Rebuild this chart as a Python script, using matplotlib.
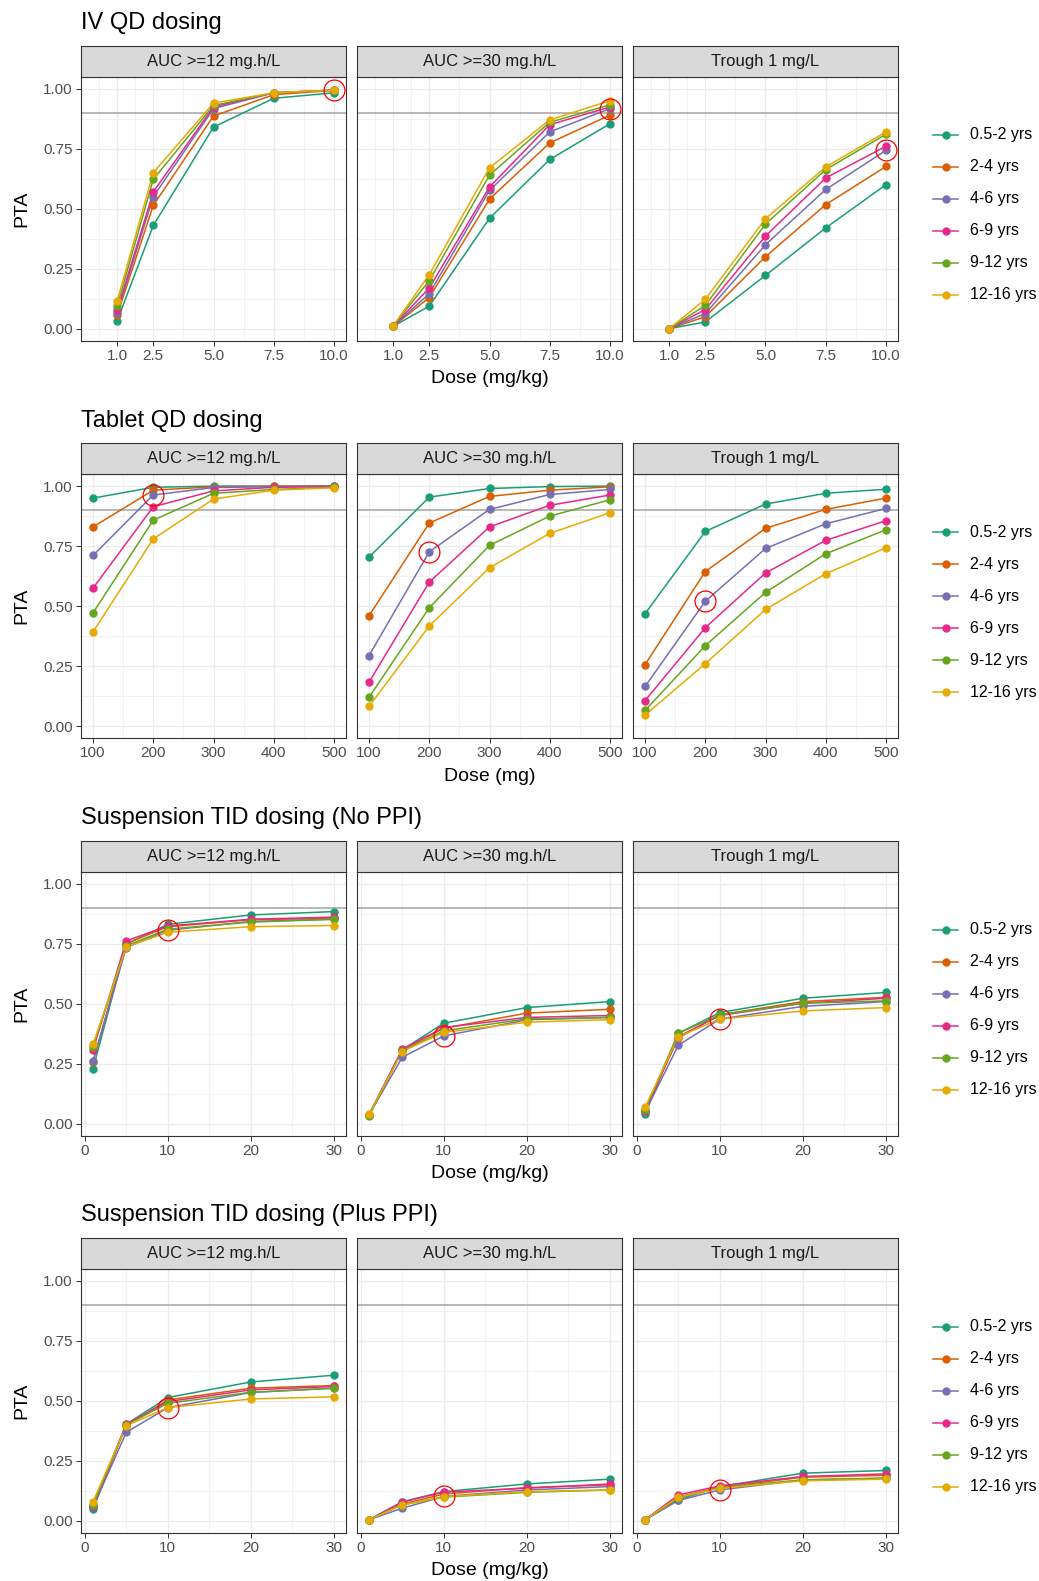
import matplotlib.pyplot as plt
from matplotlib.lines import Line2D

plt.rcParams['font.family'] = ['Liberation Sans', 'DejaVu Sans']

W, H = 1039, 1581

groups = ["0.5-2 yrs", "2-4 yrs", "4-6 yrs", "6-9 yrs", "9-12 yrs", "12-16 yrs"]
colors = ["#1B9E77", "#D95F02", "#7570B3", "#E7298A", "#66A61E", "#E6AB02"]
targets = ["AUC >=12 mg.h/L", "AUC >=30 mg.h/L", "Trough 1 mg/L"]
titles = ["IV QD dosing", "Tablet QD dosing",
          "Suspension TID dosing (No PPI)", "Suspension TID dosing (Plus PPI)"]
xlabels = ["Dose (mg/kg)", "Dose (mg)", "Dose (mg/kg)", "Dose (mg/kg)"]

iv_dose = [1, 2.5, 5, 7.5, 10]
tab_dose = [100, 200, 300, 400, 500]
sus_dose = [1, 5, 10, 20, 30]

# PTA per age group (rows follow `groups`)
iv_auc12 = [
    [0.032, 0.430, 0.840, 0.960, 0.983],
    [0.056, 0.514, 0.886, 0.975, 0.993],
    [0.067, 0.550, 0.917, 0.983, 0.994],
    [0.076, 0.570, 0.924, 0.983, 0.994],
    [0.094, 0.622, 0.930, 0.983, 0.994],
    [0.115, 0.650, 0.940, 0.983, 0.994],
]
iv_auc30 = [
    [0.010, 0.094, 0.460, 0.705, 0.854],
    [0.010, 0.130, 0.540, 0.774, 0.890],
    [0.010, 0.146, 0.576, 0.820, 0.917],
    [0.010, 0.170, 0.590, 0.850, 0.924],
    [0.012, 0.200, 0.640, 0.860, 0.933],
    [0.012, 0.225, 0.670, 0.870, 0.950],
]
iv_trough = [
    [0.000, 0.028, 0.222, 0.420, 0.600],
    [0.000, 0.050, 0.300, 0.517, 0.676],
    [0.000, 0.063, 0.350, 0.580, 0.743],
    [0.000, 0.080, 0.386, 0.628, 0.760],
    [0.000, 0.097, 0.436, 0.663, 0.810],
    [0.000, 0.122, 0.458, 0.674, 0.820],
]
tab_auc12 = [
    [0.950, 0.995, 1.000, 1.000, 1.000],
    [0.830, 0.983, 0.997, 0.999, 1.000],
    [0.711, 0.963, 0.994, 0.998, 0.999],
    [0.575, 0.914, 0.980, 0.995, 0.998],
    [0.472, 0.858, 0.970, 0.986, 0.995],
    [0.393, 0.780, 0.946, 0.983, 0.993],
]
tab_auc30 = [
    [0.704, 0.954, 0.990, 0.998, 1.000],
    [0.460, 0.846, 0.957, 0.983, 0.997],
    [0.294, 0.726, 0.903, 0.965, 0.986],
    [0.183, 0.600, 0.830, 0.920, 0.963],
    [0.120, 0.493, 0.753, 0.875, 0.943],
    [0.082, 0.417, 0.660, 0.803, 0.889],
]
tab_trough = [
    [0.468, 0.811, 0.925, 0.970, 0.987],
    [0.256, 0.644, 0.824, 0.903, 0.950],
    [0.165, 0.520, 0.740, 0.843, 0.907],
    [0.106, 0.410, 0.638, 0.774, 0.856],
    [0.065, 0.335, 0.557, 0.718, 0.818],
    [0.046, 0.260, 0.486, 0.635, 0.743],
]
sus_auc12 = [
    [0.228, 0.747, 0.830, 0.869, 0.883],
    [0.258, 0.750, 0.820, 0.849, 0.855],
    [0.260, 0.733, 0.805, 0.842, 0.851],
    [0.307, 0.761, 0.823, 0.851, 0.860],
    [0.320, 0.740, 0.810, 0.839, 0.851],
    [0.330, 0.736, 0.797, 0.820, 0.825],
]
sus_auc30 = [
    [0.035, 0.307, 0.418, 0.483, 0.508],
    [0.037, 0.306, 0.397, 0.460, 0.476],
    [0.036, 0.276, 0.365, 0.432, 0.442],
    [0.037, 0.310, 0.400, 0.442, 0.450],
    [0.033, 0.303, 0.386, 0.436, 0.442],
    [0.038, 0.300, 0.380, 0.422, 0.433],
]
sus_trough = [
    [0.039, 0.376, 0.462, 0.522, 0.546],
    [0.057, 0.356, 0.453, 0.508, 0.526],
    [0.047, 0.326, 0.435, 0.488, 0.508],
    [0.053, 0.362, 0.450, 0.501, 0.522],
    [0.057, 0.376, 0.453, 0.501, 0.511],
    [0.067, 0.362, 0.435, 0.469, 0.483],
]
ppi_auc12 = [
    [0.049, 0.403, 0.514, 0.579, 0.607],
    [0.063, 0.397, 0.504, 0.553, 0.564],
    [0.057, 0.369, 0.472, 0.535, 0.553],
    [0.063, 0.404, 0.497, 0.546, 0.560],
    [0.067, 0.400, 0.490, 0.536, 0.553],
    [0.080, 0.397, 0.472, 0.508, 0.517],
]
ppi_auc30 = [
    [0.005, 0.080, 0.122, 0.154, 0.174],
    [0.005, 0.070, 0.112, 0.139, 0.150],
    [0.005, 0.053, 0.102, 0.129, 0.143],
    [0.005, 0.078, 0.120, 0.136, 0.154],
    [0.005, 0.067, 0.099, 0.119, 0.129],
    [0.005, 0.067, 0.101, 0.122, 0.129],
]
ppi_trough = [
    [0.005, 0.088, 0.143, 0.199, 0.210],
    [0.005, 0.100, 0.140, 0.182, 0.190],
    [0.005, 0.085, 0.129, 0.171, 0.178],
    [0.005, 0.108, 0.146, 0.185, 0.196],
    [0.005, 0.094, 0.139, 0.171, 0.178],
    [0.005, 0.099, 0.136, 0.167, 0.174],
]

# recommended dose (circled) for the 4-6 yrs group
rec_dose = [10, 200, 10, 10]
rec_group = 2

rows = [
    (iv_dose, [iv_auc12, iv_auc30, iv_trough]),
    (tab_dose, [tab_auc12, tab_auc30, tab_trough]),
    (sus_dose, [sus_auc12, sus_auc30, sus_trough]),
    (sus_dose, [ppi_auc12, ppi_auc30, ppi_trough]),
]
xticks = [[1, 2.5, 5, 7.5, 10], [100, 200, 300, 400, 500], [0, 10, 20, 30], [0, 10, 20, 30]]
xticklabels = [["1.0", "2.5", "5.0", "7.5", "10.0"], ["100", "200", "300", "400", "500"],
               ["0", "10", "20", "30"], ["0", "10", "20", "30"]]
xminor = [[0.25, 1.75, 3.75, 6.25, 8.75], [150, 250, 350, 450], [5, 15, 25], [5, 15, 25]]
xlims = [(-0.5, 10.5), (80, 520), (-0.45, 31.45), (-0.45, 31.45)]


def rect(x0, y0, x1, y1):
    return [x0 / W, 1 - y1 / H, (x1 - x0) / W, (y1 - y0) / H]


fig = plt.figure(figsize=(W / 100, H / 100), dpi=100)
fig.patch.set_facecolor("white")

panel_x = [(81, 346), (357, 622), (633, 898)]
top0, period, ph, sh = 76.7, 397.4, 264, 31

for r, (dose, series) in enumerate(rows):
    top = top0 + period * r
    bot = top + ph
    fig.text(81 / W, 1 - (top - 53.5) / H, titles[r], fontsize=17, ha="left", va="center", color="black")
    fig.text((81 + 898) / 2 / W, 1 - (bot + 38) / H, xlabels[r], fontsize=14, ha="center", va="center")
    fig.text(22 / W, 1 - (top + ph / 2) / H, "PTA", fontsize=14, rotation=90, ha="center", va="center")

    for c in range(3):
        x0, x1 = panel_x[c]
        ax = fig.add_axes(rect(x0, top, x1, bot))
        vals = series[c]
        ax.axhline(0.9, color="#A3A3A3", lw=1.1, zorder=2)
        for g in range(6):
            ax.plot(dose, vals[g], color=colors[g], lw=1.1, zorder=3)
        for g in range(6):
            ax.plot(dose, vals[g], "o", color=colors[g], ms=5, zorder=4)
        i = dose.index(rec_dose[r])
        ax.plot(dose[i], vals[rec_group][i], "o", ms=15, mfc="none", mec="#FF0000", mew=0.9,
                zorder=5, clip_on=False)

        ax.set_xlim(*xlims[r])
        ax.set_ylim(-0.05, 1.05)
        ax.set_xticks(xticks[r])
        ax.set_xticklabels(xticklabels[r])
        ax.set_xticks(xminor[r], minor=True)
        ax.set_yticks([0, 0.25, 0.5, 0.75, 1.0])
        ax.set_yticks([0.125, 0.375, 0.625, 0.875], minor=True)
        ax.set_yticklabels(["0.00", "0.25", "0.50", "0.75", "1.00"])
        ax.grid(which="major", color="#EBEBEB", lw=0.9, zorder=0)
        ax.grid(which="minor", color="#EBEBEB", lw=0.45, zorder=0)
        ax.set_axisbelow(True)
        ax.tick_params(which="minor", length=0)
        ax.tick_params(which="major", length=3.5, width=0.7, color="#333333",
                       labelsize=11, labelcolor="#4D4D4D", pad=2.5)
        if c > 0:
            ax.tick_params(axis="y", left=False, labelleft=False)
        for s in ax.spines.values():
            s.set_color("#333333")
            s.set_linewidth(0.8)

        sx = fig.add_axes(rect(x0, top - sh, x1, top))
        sx.set_facecolor("#D9D9D9")
        sx.set_xticks([])
        sx.set_yticks([])
        for s in sx.spines.values():
            s.set_color("#333333")
            s.set_linewidth(0.8)
        sx.text(0.5, 0.5, targets[c], fontsize=12, color="#1A1A1A", ha="center", va="center",
                transform=sx.transAxes)

    # legend
    lx = fig.add_axes(rect(925, top, 1039, bot))
    lx.set_xlim(925, 1039)
    lx.set_ylim(bot, top)
    lx.axis("off")
    for g in range(6):
        yy = top + 58 + 32 * g
        lx.add_line(Line2D([933, 958], [yy, yy], color=colors[g], lw=1.1))
        lx.plot(945.5, yy, "o", color=colors[g], ms=5)
        lx.text(970, yy, groups[g], fontsize=11.5, ha="left", va="center", color="black")

fig.savefig("out.png", dpi=100)
